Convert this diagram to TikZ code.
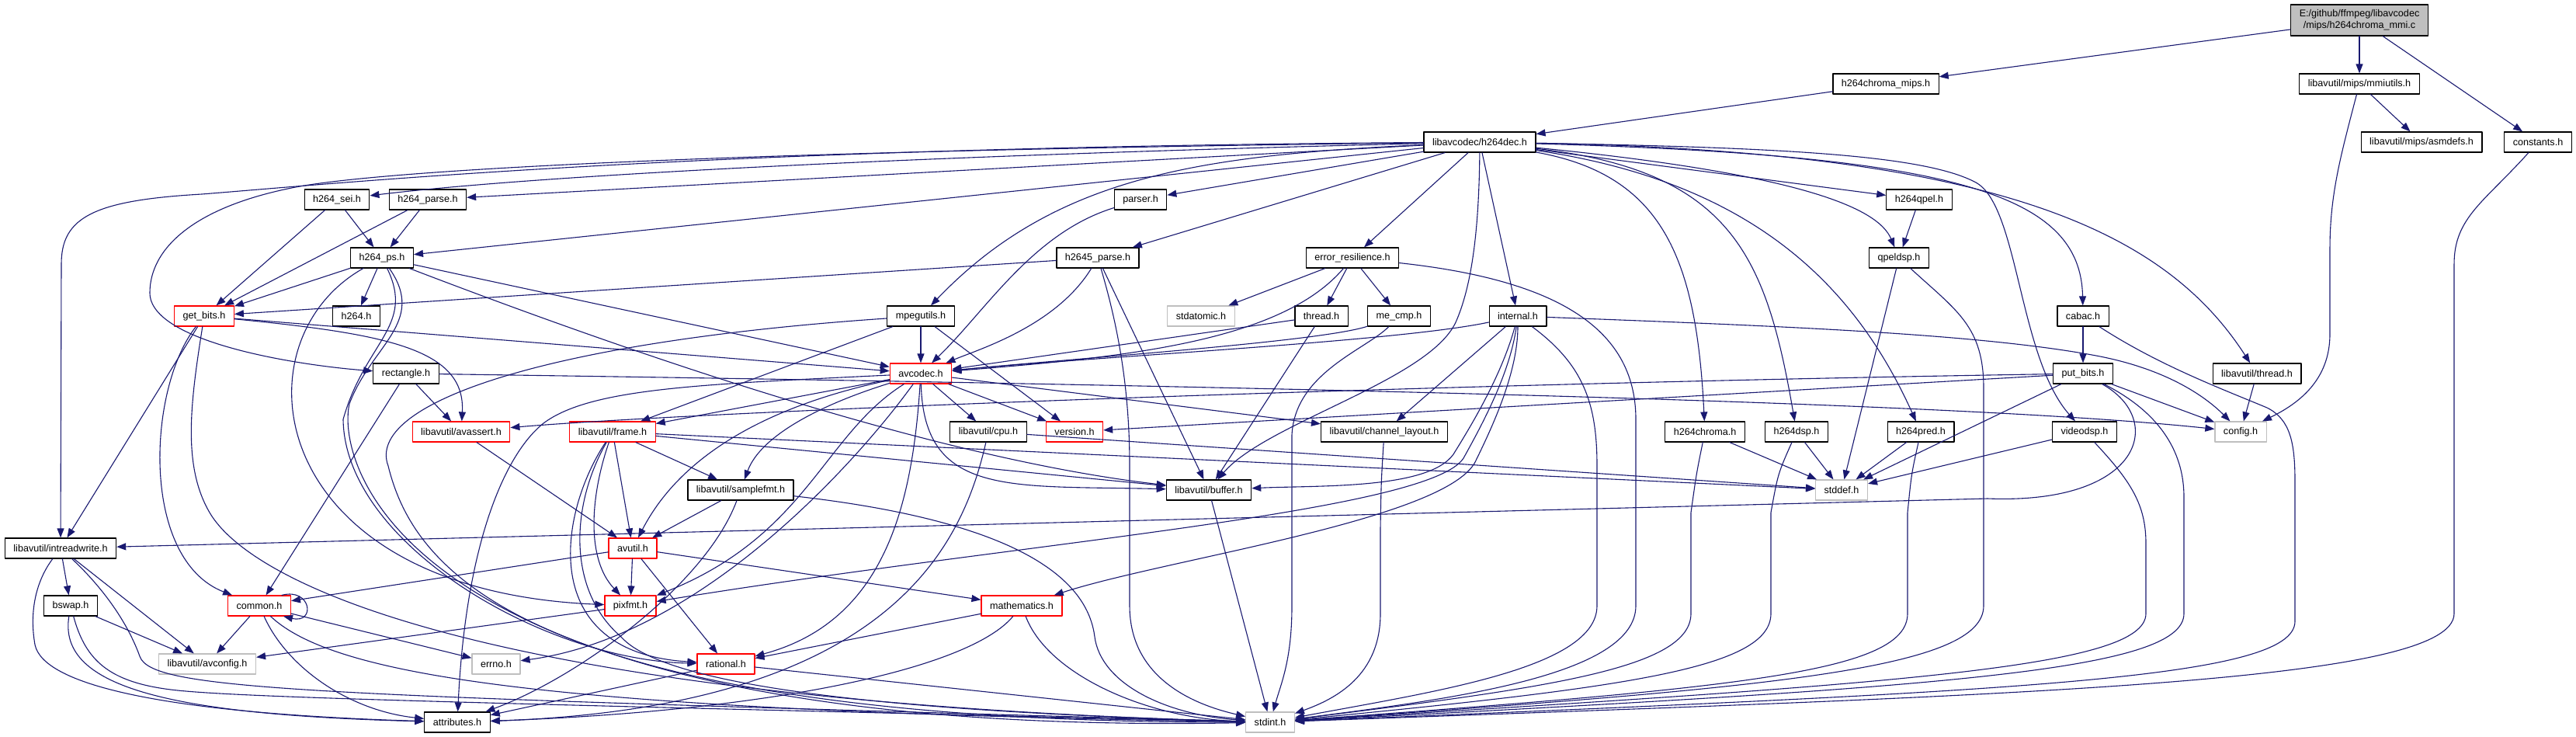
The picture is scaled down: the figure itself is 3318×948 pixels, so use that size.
\documentclass[tikz,border=0pt]{standalone}
\usepackage{fontspec}
\setmainfont{Liberation Sans}
\usetikzlibrary{arrows.meta}
\definecolor{depblue}{HTML}{191970}
\definecolor{sysgray}{HTML}{BFBFBF}

\begin{document}
\begin{tikzpicture}[x=1pt, y=-1pt, line join=round, line cap=round,
  hdr/.style={draw=black, line width=1.2pt, fill=white, inner xsep=11pt, inner ysep=0pt,
    minimum height=26pt, font=\fontsize{12.6}{15}\selectfont},
  redhdr/.style={hdr, draw=red},
  syshdr/.style={hdr, draw=sysgray},
  dep/.style={depblue, line width=1.1pt, -{Triangle[length=12pt,width=9pt]}}]
\useasboundingbox (0,0) rectangle (3318,948);

% headers, placed at the pixel positions of the layout
\node[hdr, fill=sysgray, align=center, minimum height=40pt] (root) at (3039,26) {E:/github/ffmpeg/libavcodec\\/mips/h264chroma\_mmi.c};
\node[hdr] (chmips) at (2429,108) {h264chroma\_mips.h};
\node[hdr] (mmiutils) at (3039,108) {libavutil/mips/mmiutils.h};
\node[hdr] (h264dec) at (1906,183) {libavcodec/h264dec.h};
\node[hdr] (asmdefs) at (3119,183) {libavutil/mips/asmdefs.h};
\node[hdr] (constants) at (3269,183) {constants.h};
\node[hdr] (sei) at (434,257) {h264\_sei.h};
\node[hdr] (h264parse) at (551,257) {h264\_parse.h};
\node[hdr] (parser) at (1469,257) {parser.h};
\node[hdr] (h264qpel) at (2472,257) {h264qpel.h};
\node[hdr] (h264ps) at (492,332) {h264\_ps.h};
\node[hdr] (h2645) at (1414,332) {h2645\_parse.h};
\node[hdr] (er) at (1742,332) {error\_resilience.h};
\node[hdr] (qpeldsp) at (2446,332) {qpeldsp.h};
\node[redhdr] (getbits) at (263,407) {get\_bits.h};
\node[hdr] (h264) at (459,407) {h264.h};
\node[hdr] (mpegutils) at (1186,407) {mpegutils.h};
\node[syshdr] (stdatomic) at (1547,407) {stdatomic.h};
\node[hdr] (thread) at (1702,407) {thread.h};
\node[hdr] (mecmp) at (1802,407) {me\_cmp.h};
\node[hdr] (internal) at (1955,407) {internal.h};
\node[hdr] (cabac) at (2683,407) {cabac.h};
\node[hdr] (rectangle) at (523,481) {rectangle.h};
\node[redhdr] (avcodec) at (1186,481) {avcodec.h};
\node[hdr] (putbits) at (2683,481) {put\_bits.h};
\node[hdr] (avthread) at (2907,481) {libavutil/thread.h};
\node[redhdr] (avassert) at (594,556) {libavutil/avassert.h};
\node[redhdr] (frame) at (789,556) {libavutil/frame.h};
\node[hdr] (cpu) at (1273,556) {libavutil/cpu.h};
\node[redhdr] (version) at (1384,556) {version.h};
\node[hdr] (chlayout) at (1783,556) {libavutil/channel\_layout.h};
\node[hdr] (h264chroma) at (2196,556) {h264chroma.h};
\node[hdr] (h264dsp) at (2314,556) {h264dsp.h};
\node[hdr] (h264pred) at (2474,556) {h264pred.h};
\node[hdr] (videodsp) at (2685,556) {videodsp.h};
\node[syshdr] (config) at (2886,556) {config.h};
\node[hdr] (samplefmt) at (954,631) {libavutil/samplefmt.h};
\node[hdr] (buffer) at (1557,631) {libavutil/buffer.h};
\node[syshdr] (stddef) at (2372,631) {stddef.h};
\node[hdr] (intreadwrite) at (78,706) {libavutil/intreadwrite.h};
\node[redhdr] (avutil) at (815,706) {avutil.h};
\node[hdr] (bswap) at (91,780) {bswap.h};
\node[redhdr] (common) at (334,780) {common.h};
\node[redhdr] (pixfmt) at (812,780) {pixfmt.h};
\node[redhdr] (mathematics) at (1316,780) {mathematics.h};
\node[syshdr] (avconfig) at (267,855) {libavutil/avconfig.h};
\node[syshdr] (errno) at (639,855) {errno.h};
\node[redhdr] (rational) at (935,855) {rational.h};
\node[hdr] (attributes) at (589,930) {attributes.h};
\node[syshdr] (stdint) at (1636,930) {stdint.h};

% the source file
\draw[dep] (root) -- (chmips);
\draw[dep] (root) -- (mmiutils);
\draw[dep] (root) -- (constants);
\draw[dep] (chmips) -- (h264dec);
\draw[dep] (mmiutils) -- (asmdefs);
\draw[dep] (mmiutils) .. controls (3015,200) and (3001,250) .. (3001,320) -- (3001,430) .. controls (3001,490) and (2960,520) .. (config);
\draw[dep] (constants) .. controls (3200,260) and (3161,280) .. (3161,340) -- (3161,790) .. controls (3161,880) and (2600,895) .. (stdint);

% libavcodec/h264dec.h
\draw[dep] (h264dec) .. controls (900,190) and (450,235) .. (260,250) .. controls (120,258) and (79,280) .. (79,340) -- (intreadwrite);
\draw[dep] (h264dec) .. controls (900,195) and (500,220) .. (386,240) .. controls (250,265) and (193,320) .. (193,377) .. controls (193,440) and (380,470) .. (rectangle);
\draw[dep] (h264dec) .. controls (1200,200) and (700,225) .. (sei);
\draw[dep] (h264dec) -- (h264parse);
\draw[dep] (h264dec) -- (h264ps);
\draw[dep] (h264dec) -- (parser);
\draw[dep] (h264dec) -- (h2645);
\draw[dep] (h264dec) .. controls (1550,200) and (1360,225) .. (mpegutils);
\draw[dep] (h264dec) -- (er);
\draw[dep] (h264dec) -- (internal);
\draw[dep] (h264dec) .. controls (1905,300) and (1895,370) .. (1875,415) .. controls (1840,490) and (1630,545) .. (buffer);
\draw[dep] (h264dec) -- (h264qpel);
\draw[dep] (h264dec) .. controls (2330,225) and (2420,270) .. (qpeldsp);
\draw[dep] (h264dec) .. controls (2140,225) and (2185,330) .. (h264chroma);
\draw[dep] (h264dec) .. controls (2230,220) and (2275,330) .. (h264dsp);
\draw[dep] (h264dec) .. controls (2260,235) and (2390,370) .. (h264pred);
\draw[dep] (h264dec) .. controls (2300,190) and (2480,200) .. (2545,235) .. controls (2600,265) and (2600,460) .. (videodsp);
\draw[dep] (h264dec) .. controls (2520,200) and (2680,250) .. (cabac);
\draw[dep] (h264dec) .. controls (2580,195) and (2790,300) .. (avthread);

% parsers and parameter sets
\draw[dep] (sei) -- (getbits);
\draw[dep] (sei) -- (h264ps);
\draw[dep] (h264parse) -- (getbits);
\draw[dep] (h264parse) -- (h264ps);
\draw[dep] (h264ps) -- (getbits);
\draw[dep] (h264ps) -- (h264);
\draw[dep] (h264ps) -- (avcodec);
\draw[dep] (h264ps) .. controls (800,450) and (1200,590) .. (buffer);
\draw[dep] (h264ps) .. controls (300,440) and (340,760) .. (pixfmt);
\draw[dep] (h264ps) .. controls (535,420) and (470,440) .. (442,540) .. controls (444,700) and (700,850) .. (rational);
\draw[dep] (h264ps) .. controls (550,415) and (478,445) .. (450,520) .. controls (432,600) and (520,950) .. (stdint);
\draw[dep] (h2645) -- (getbits);
\draw[dep] (h2645) .. controls (1360,420) and (1260,450) .. (avcodec);
\draw[dep] (h2645) -- (buffer);
\draw[dep] (h2645) .. controls (1440,420) and (1455,500) .. (1455,600) -- (1455,780) .. controls (1455,880) and (1550,910) .. (stdint);
\draw[dep] (parser) .. controls (1330,300) and (1270,400) .. (avcodec);

% mpegutils, error resilience, threads
\draw[dep] (mpegutils) -- (frame);
\draw[dep] (mpegutils) -- (avcodec);
\draw[dep] (mpegutils) -- (version);
\draw[dep] (mpegutils) .. controls (700,440) and (470,520) .. (500,600) .. controls (530,720) and (650,930) .. (stdint);
\draw[dep] (er) -- (stdatomic);
\draw[dep] (er) -- (thread);
\draw[dep] (er) -- (mecmp);
\draw[dep] (er) .. controls (1650,440) and (1450,460) .. (avcodec);
\draw[dep] (er) .. controls (2000,360) and (2107,420) .. (2107,540) -- (2107,780) .. controls (2107,870) and (1870,900) .. (stdint);
\draw[dep] (thread) -- (avcodec);
\draw[dep] (thread) -- (buffer);
\draw[dep] (mecmp) .. controls (1700,440) and (1400,460) .. (avcodec);
\draw[dep] (mecmp) .. controls (1760,450) and (1668,480) .. (1664,560) -- (1664,780) .. controls (1664,850) and (1650,880) .. (stdint);

% internal.h
\draw[dep] (internal) .. controls (1800,440) and (1400,460) .. (avcodec);
\draw[dep] (internal) -- (chlayout);
\draw[dep] (internal) .. controls (1935,480) and (1900,540) .. (1872,585) .. controls (1840,630) and (1700,625) .. (buffer);
\draw[dep] (internal) .. controls (1945,480) and (1910,545) .. (1885,590) .. controls (1840,660) and (1300,700) .. (pixfmt);
\draw[dep] (internal) .. controls (1955,480) and (1922,550) .. (1900,595) .. controls (1860,670) and (1500,720) .. (mathematics);
\draw[dep] (internal) .. controls (2040,470) and (2057,520) .. (2057,600) -- (2057,780) .. controls (2057,860) and (1850,890) .. (stdint);
\draw[dep] (internal) .. controls (2300,420) and (2550,430) .. (2700,458) .. controls (2790,475) and (2840,510) .. (config);

% cabac, put_bits and the dsp headers
\draw[dep] (cabac) -- (putbits);
\draw[dep] (cabac) .. controls (2780,470) and (2860,500) .. (2920,525) .. controls (2950,540) and (2956,570) .. (2956,620) -- (2956,800) .. controls (2956,875) and (2600,890) .. (stdint);
\draw[dep] (putbits) .. controls (1800,495) and (900,530) .. (avassert);
\draw[dep] (putbits) -- (version);
\draw[dep] (putbits) -- (stddef);
\draw[dep] (putbits) -- (config);
\draw[dep] (putbits) .. controls (2790,540) and (2760,650) .. (2560,642) -- (intreadwrite);
\draw[dep] (putbits) .. controls (2780,530) and (2813,580) .. (2813,640) -- (2813,790) .. controls (2813,865) and (2500,885) .. (stdint);
\draw[dep] (avthread) -- (config);
\draw[dep] (h264qpel) -- (qpeldsp);
\draw[dep] (qpeldsp) -- (stddef);
\draw[dep] (qpeldsp) .. controls (2520,400) and (2555,420) .. (2555,500) -- (2555,780) .. controls (2555,860) and (2300,885) .. (stdint);
\draw[dep] (h264chroma) -- (stddef);
\draw[dep] (h264chroma) .. controls (2185,610) .. (2178,660) -- (2178,790) .. controls (2178,860) and (2000,885) .. (stdint);
\draw[dep] (h264dsp) -- (stddef);
\draw[dep] (h264dsp) .. controls (2290,610) .. (2281,660) -- (2281,790) .. controls (2281,860) and (2100,885) .. (stdint);
\draw[dep] (h264pred) -- (stddef);
\draw[dep] (h264pred) .. controls (2462,610) .. (2457,660) -- (2457,790) .. controls (2457,865) and (2250,885) .. (stdint);
\draw[dep] (videodsp) -- (stddef);
\draw[dep] (videodsp) .. controls (2745,620) and (2764,650) .. (2764,700) -- (2764,790) .. controls (2764,860) and (2450,880) .. (stdint);

% rectangle.h and get_bits.h
\draw[dep] (rectangle) -- (avassert);
\draw[dep] (rectangle) -- (common);
\draw[dep] (rectangle) .. controls (1500,495) and (2500,515) .. (config);
\draw[dep] (getbits) -- (intreadwrite);
\draw[dep] (getbits) .. controls (190,500) and (180,720) .. (common);
\draw[dep] (getbits) .. controls (245,520) and (235,600) .. (270,660) .. controls (320,746) and (600,900) .. (stdint);
\draw[dep] (getbits) .. controls (500,430) and (600,450) .. (avassert);
\draw[dep] (getbits) -- (avcodec);

% avcodec.h
\draw[dep] (avcodec) .. controls (1100,600) and (900,820) .. (errno);
\draw[dep] (avcodec) .. controls (1060,520) and (980,560) .. (samplefmt);
\draw[dep] (avcodec) .. controls (900,495) and (760,500) .. (700,545) .. controls (650,585) and (600,700) .. (attributes);
\draw[dep] (avcodec) .. controls (1000,520) and (880,580) .. (avutil);
\draw[dep] (avcodec) .. controls (1190,640) and (1300,625) .. (buffer);
\draw[dep] (avcodec) -- (cpu);
\draw[dep] (avcodec) -- (chlayout);
\draw[dep] (avcodec) -- (frame);
\draw[dep] (avcodec) .. controls (1060,560) and (1040,690) .. (pixfmt);
\draw[dep] (avcodec) .. controls (1175,650) and (1140,800) .. (rational);
\draw[dep] (avcodec) -- (version);

% libavutil headers
\draw[dep] (frame) -- (avutil);
\draw[dep] (frame) -- (buffer);
\draw[dep] (frame) -- (samplefmt);
\draw[dep] (frame) -- (stddef);
\draw[dep] (frame) .. controls (760,640) and (755,720) .. (pixfmt);
\draw[dep] (frame) .. controls (720,660) and (690,840) .. (rational);
\draw[dep] (frame) .. controls (735,650) and (730,760) .. (800,820) .. controls (870,900) and (1300,920) .. (stdint);
\draw[dep] (avassert) -- (avutil);
\draw[dep] (samplefmt) -- (avutil);
\draw[dep] (samplefmt) .. controls (910,750) and (750,870) .. (attributes);
\draw[dep] (samplefmt) .. controls (1300,670) and (1400,740) .. (1410,820) .. controls (1418,880) and (1500,920) .. (stdint);
\draw[dep] (cpu) .. controls (1240,700) and (1150,910) .. (attributes);
\draw[dep] (cpu) -- (stddef);
\draw[dep] (chlayout) .. controls (1779,620) .. (1778,680) -- (1778,790) .. controls (1778,870) and (1720,900) .. (stdint);
\draw[dep] (buffer) -- (stdint);
\draw[dep] (avutil) -- (common);
\draw[dep] (avutil) -- (pixfmt);
\draw[dep] (avutil) -- (rational);
\draw[dep] (avutil) -- (mathematics);
\draw[dep] (pixfmt) -- (avconfig);
\draw[dep] (mathematics) -- (rational);
\draw[dep] (mathematics) .. controls (1250,860) and (1000,915) .. (attributes);
\draw[dep] (mathematics) .. controls (1350,870) and (1480,925) .. (stdint);
\draw[dep] (rational) -- (attributes);
\draw[dep] (rational) -- (stdint);

% bottom row
\draw[dep] (intreadwrite) -- (bswap);
\draw[dep] (intreadwrite) -- (avconfig);
\draw[dep] (intreadwrite) .. controls (45,750) and (38,790) .. (45,830) .. controls (55,880) and (200,918) .. (attributes);
\draw[dep] (intreadwrite) .. controls (120,745) and (160,790) .. (180,845) .. controls (195,890) and (400,895) .. (stdint);
\draw[dep] (bswap) -- (avconfig);
\draw[dep] (bswap) .. controls (75,880) and (200,920) .. (attributes);
\draw[dep] (bswap) .. controls (110,850) and (140,878) .. (220,888) .. controls (300,898) and (600,905) .. (stdint);
\draw[dep] ([xshift=-12pt]common.north east) .. controls +(38,-10) and +(42,10) .. ([xshift=-10pt]common.south east);
\draw[dep] (common) -- (avconfig);
\draw[dep] (common) -- (errno);
\draw[dep] (common) .. controls (370,860) and (450,915) .. (attributes);
\draw[dep] (common) .. controls (430,870) and (700,915) .. (stdint);
\end{tikzpicture}
\end{document}
